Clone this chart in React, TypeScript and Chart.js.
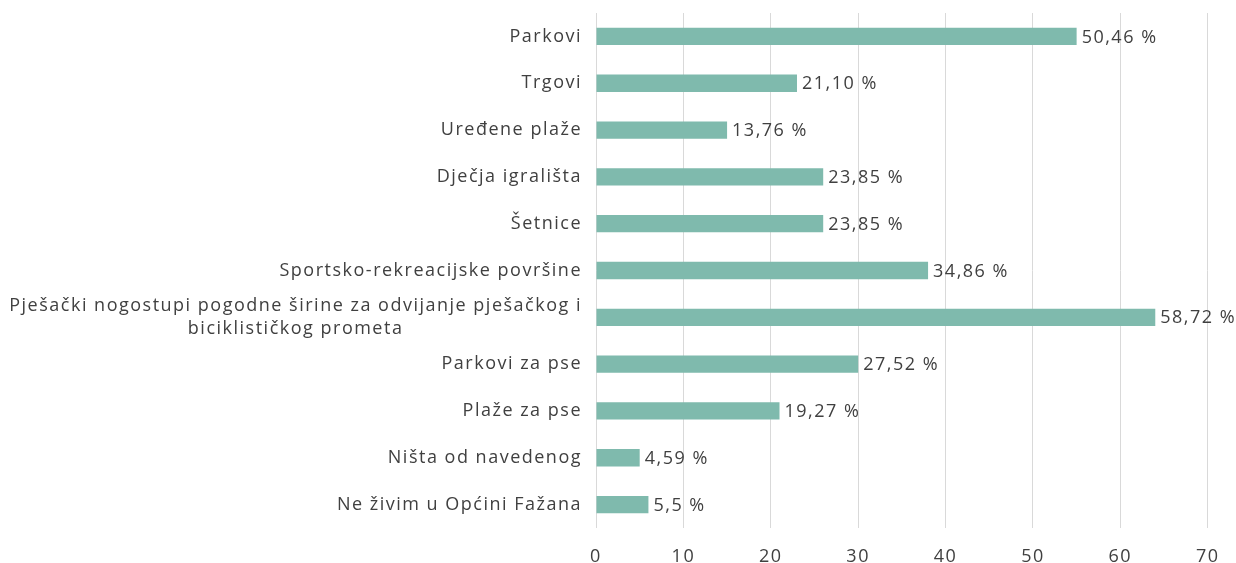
import React, { useEffect, useRef } from "react";
import { Chart, registerables } from "chart.js";

Chart.register(...registerables);

const categories: string[][] = [
  ["Parkovi"],
  ["Trgovi"],
  ["Uređene plaže"],
  ["Dječja igrališta"],
  ["Šetnice"],
  ["Sportsko-rekreacijske površine"],
  ["Pješački nogostupi pogodne širine za odvijanje pješačkog i", "biciklističkog prometa"],
  ["Parkovi za pse"],
  ["Plaže za pse"],
  ["Ništa od navedenog"],
  ["Ne živim u Općini Fažana"],
];

const counts: number[] = [55, 23, 15, 26, 26, 38, 64, 30, 21, 5, 6];

const percentLabels: string[] = [
  "50,46 %",
  "21,10 %",
  "13,76 %",
  "23,85 %",
  "23,85 %",
  "34,86 %",
  "58,72 %",
  "27,52 %",
  "19,27 %",
  "4,59 %",
  "5,5 %",
];

const FONT = "'Open Sans', 'Noto Sans', sans-serif";
const TEXT = "#404040";
const SPACING = "1.5px";

const spacingPlugin = {
  id: "spacing",
  beforeDraw(chart: any) {
    (chart.ctx as any).letterSpacing = SPACING;
  },
  afterDraw(chart: any) {
    (chart.ctx as any).letterSpacing = "0px";
  },
};

const labelPlugin = {
  id: "customLabels",
  afterDatasetsDraw(chart: any) {
    const ctx = chart.ctx as CanvasRenderingContext2D;
    const meta = chart.getDatasetMeta(0);
    const yScale = chart.scales.y;
    ctx.save();
    (ctx as any).letterSpacing = SPACING;
    ctx.font = `400 18px ${FONT}`;
    ctx.fillStyle = TEXT;
    ctx.textBaseline = "middle";
    meta.data.forEach((bar: any, i: number) => {
      ctx.textAlign = "left";
      ctx.fillText(percentLabels[i], bar.x + 5, bar.y + 1);
    });
    const right = yScale.right - 14;
    categories.forEach((lines, i) => {
      const yc = yScale.getPixelForTick(i);
      const lh = 23;
      if (lines.length === 1) {
        ctx.textAlign = "right";
        ctx.fillText(lines[0], right, yc);
      } else {
        const maxW = Math.max(...lines.map((l) => ctx.measureText(l).width));
        const cx = right - maxW / 2;
        ctx.textAlign = "center";
        lines.forEach((l, k) => {
          ctx.fillText(l, cx, yc + (k - (lines.length - 1) / 2) * lh);
        });
      }
    });
    ctx.restore();
  },
};

export default function App() {
  const ref = useRef<HTMLCanvasElement | null>(null);
  useEffect(() => {
    if (!ref.current) return;
    const chart = new Chart(ref.current, {
      type: "bar",
      data: {
        labels: categories.map((c) => c.join(" ")),
        datasets: [
          {
            data: counts,
            backgroundColor: "#7FBAAD",
            borderWidth: 0,
            barPercentage: 0.74,
            categoryPercentage: 0.5,
          },
        ],
      },
      options: {
        indexAxis: "y",
        animation: false,
        responsive: true,
        maintainAspectRatio: false,
        layout: { padding: { top: 13, right: 25.5, left: 0, bottom: 0 } },
        plugins: {
          legend: { display: false },
          tooltip: { enabled: false },
        },
        scales: {
          x: {
            min: 0,
            max: 70,
            ticks: {
              stepSize: 10,
              color: TEXT,
              font: { family: FONT, size: 18, weight: "400" },
              padding: 18,
            },
            grid: {
              color: "#D9D9D9",
              lineWidth: 1,
              drawTicks: false,
            },
            border: { display: false },
            afterFit: (s: any) => {
              s.height = 35;
            },
          },
          y: {
            ticks: { display: false },
            grid: { display: false },
            border: { display: false },
            afterFit: (s: any) => {
              s.width = 596;
            },
          },
        },
      },
      plugins: [spacingPlugin, labelPlugin],
    });
    return () => chart.destroy();
  }, []);
  return (
    <div style={{ position: "fixed", left: 0, top: 0, width: 1236, height: 563 }}>
      <canvas ref={ref} />
    </div>
  );
}
